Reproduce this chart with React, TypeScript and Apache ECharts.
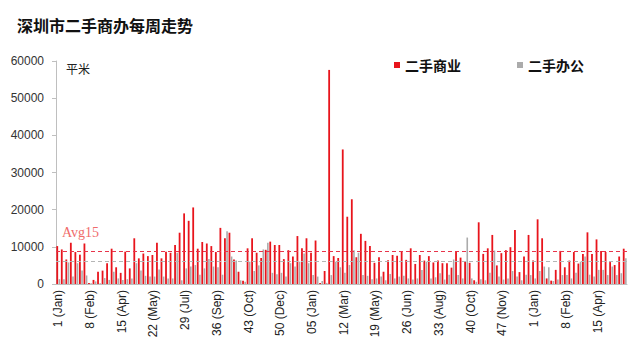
import React, { useEffect, useRef } from "react";
import * as echarts from "echarts";

const tickLabels = [
  "1 (Jan)", "8 (Feb)", "15 (Apr)", "22 (May)", "29 (Jul)", "36 (Sep)", "43 (Oct)", "50 (Dec)",
  "05 (Jan)", "12 (Mar)", "19 (May)", "26 (Jun)", "33 (Aug)", "40 (Oct)", "47 (Nov)",
  "1 (Jan)", "8 (Feb)", "15 (Apr)",
];

const yearWeeks: [number, number][] = [[2015, 52], [2016, 53], [2017, 21]];
const categories: string[] = [];
yearWeeks.forEach(([y, n]) => {
  for (let w = 1; w <= n; w++) categories.push(`${y}-W${w}`);
});

const commercial = [
  10200, 9300, 6600, 11100, 8600, 7900, 10900, 300, 1100, 3300,
  3600, 5600, 9500, 4500, 3000, 8700, 4200, 12300, 6900, 8200,
  7500, 7800, 11100, 6900, 8700, 8400, 10500, 13800, 19000, 17000,
  20600, 9500, 11300, 10900, 10200, 8600, 15100, 12300, 13800, 6600,
  3300, 900, 9600, 12300, 8400, 7000, 9200, 11400, 10500, 10500,
  6700, 9100, 7400, 12900, 9600, 12300, 8400, 11700, 300, 3500,
  57600, 7500, 7000, 36200, 18100, 22800, 7200, 13500, 11600, 10200,
  5700, 7200, 3300, 6400, 7800, 7600, 8700, 6500, 9600, 5400,
  7800, 6300, 7500, 5800, 6300, 5600, 5600, 4400, 8700, 7100,
  6000, 5700, 1000, 16600, 8100, 9600, 13200, 5000, 8300, 9100,
  9900, 14500, 3200, 7400, 13200, 6300, 17400, 12300, 1500, 900,
  3800, 8900, 4500, 6300, 8600, 5500, 8100, 13900, 8100, 12000,
  8900, 8600, 5900, 5100, 7400, 9500,
];

const office = [
  1300, 1300, 5800, 2000, 5600, 3600, 2300, 200, 700, 200,
  1600, 1100, 3300, 1500, 1100, 1300, 1500, 5600, 3600, 2200,
  2000, 2000, 3900, 2000, 1500, 1500, 8400, 1000, 4200, 4700,
  5100, 2500, 4200, 6700, 4700, 4500, 2500, 14200, 7400, 6300,
  1000, 600, 6000, 3500, 5000, 9300, 11100, 3000, 2600, 3000,
  2000, 5600, 4700, 6000, 8200, 5600, 2400, 2000, 800, 300,
  2400, 6000, 4500, 3000, 5100, 9100, 8400, 2400, 2200, 1300,
  1500, 2000, 1000, 2700, 1500, 2000, 2200, 1500, 1200, 1500,
  3800, 6000, 1500, 1800, 2900, 1200, 2500, 6600, 2400, 1500,
  12500, 1500, 600, 1300, 1000, 3000, 9000, 2000, 1200, 1500,
  3500, 2000, 1000, 2500, 2400, 1500, 3500, 4700, 4500, 800,
  1200, 2400, 2400, 1500, 3000, 6000, 7400, 2500, 2000, 3800,
  3800, 2400, 4700, 2400, 2900, 6900,
];

const avgCommercial = 8800;
const avgOffice = 6000;

const CJK = "'Noto Sans CJK SC', sans-serif";

export default function App() {
  const ref = useRef<HTMLDivElement>(null);
  useEffect(() => {
    if (!ref.current) return;
    const chart = echarts.init(ref.current, undefined, { renderer: "svg" });
    chart.setOption({
      animation: false,
      backgroundColor: "#ffffff",
      title: {
        text: "深圳市二手商办每周走势",
        left: 12,
        top: 12,
        textStyle: { fontSize: 16, fontWeight: "bold", color: "#111", fontFamily: CJK },
      },
      legend: {
        left: 389,
        top: 53,
        icon: "rect",
        itemWidth: 6,
        itemHeight: 6,
        itemGap: 56,
        textStyle: { fontSize: 14, fontWeight: "bold", color: "#111", fontFamily: CJK },
        data: ["二手商业", "二手办公"],
      },
      grid: { left: 56, right: 11, top: 61, bottom: 79 },
      xAxis: {
        type: "category",
        data: categories,
        axisLine: { lineStyle: { color: "#bfbfbf" } },
        axisTick: { show: false },
        axisLabel: {
          interval: 6,
          rotate: 90,
          margin: 6,
          fontSize: 12,
          color: "#222",
          fontFamily: "Arial, 'Liberation Sans', sans-serif",
          formatter: (_v: string, i: number) => tickLabels[i / 7] ?? "",
        },
      },
      yAxis: {
        type: "value",
        min: 0,
        max: 60000,
        interval: 10000,
        splitLine: { show: false },
        axisLine: { show: true, lineStyle: { color: "#bfbfbf" } },
        axisTick: { show: true, length: 4, lineStyle: { color: "#bfbfbf" } },
        axisLabel: {
          fontSize: 12,
          color: "#333",
          margin: 12,
          fontFamily: "Arial, 'Liberation Sans', sans-serif",
          formatter: (v: number) => String(v),
        },
      },
      series: [
        {
          name: "二手商业",
          type: "bar",
          data: commercial,
          barWidth: 1.8,
          barGap: "25%",
          itemStyle: { color: "#e8141c" },
          markLine: {
            silent: true,
            symbol: "none",
            label: { show: false },
            lineStyle: { color: "#e8344a", type: [4, 3], width: 1 },
            data: [{ yAxis: avgCommercial }],
          },
        },
        {
          name: "二手办公",
          type: "bar",
          data: office,
          barWidth: 1.6,
          itemStyle: { color: "#ababab" },
          markLine: {
            silent: true,
            symbol: "none",
            label: { show: false },
            lineStyle: { color: "#b5b5b5", type: [4, 3], width: 1 },
            data: [{ yAxis: avgOffice }],
          },
        },
      ],
      graphic: [
        {
          type: "text",
          left: 66,
          top: 62,
          style: { text: "平米", fill: "#222", font: `12px ${CJK}` },
        },
        {
          type: "text",
          left: 62,
          top: 225,
          style: {
            text: "Avg15",
            fill: "#f06b6b",
            font: "14px 'Liberation Serif', 'DejaVu Serif', serif",
          },
        },
      ],
    });
    return () => chart.dispose();
  }, []);
  return (
    <div
      ref={ref}
      style={{ position: "fixed", left: 0, top: 0, width: 638, height: 363, background: "#fff" }}
    />
  );
}
